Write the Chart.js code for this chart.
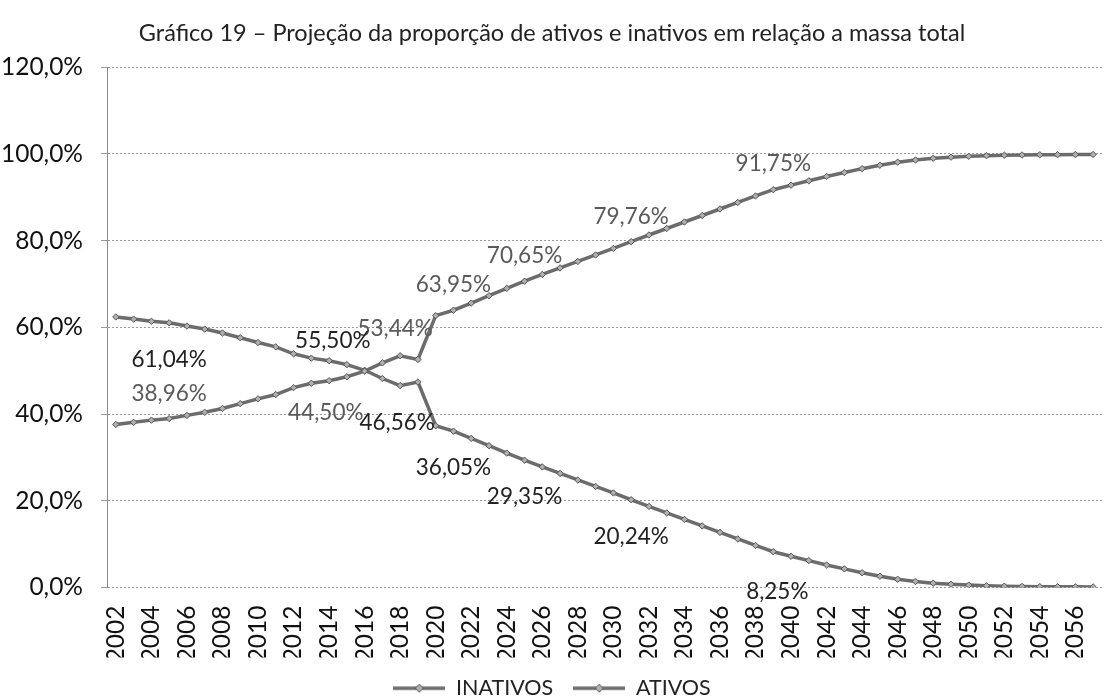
<!DOCTYPE html>
<html lang="pt">
<head>
<meta charset="utf-8">
<title>Gráfico 19</title>
<script src="https://cdn.jsdelivr.net/npm/chart.js@4.4.0/dist/chart.umd.min.js"></script>
<style>
  html, body { margin: 0; padding: 0; background: #fff; }
  #grafico { display: block; }
</style>
</head>
<body>
<canvas id="grafico" width="1107" height="699"></canvas>
<script>
// Anos da projeção
const anos = [
  '2002', '2003', '2004', '2005', '2006', '2007', '2008', '2009', '2010', '2011',
  '2012', '2013', '2014', '2015', '2016', '2017', '2018', '2019', '2020', '2021',
  '2022', '2023', '2024', '2025', '2026', '2027', '2028', '2029', '2030', '2031',
  '2032', '2033', '2034', '2035', '2036', '2037', '2038', '2039', '2040', '2041',
  '2042', '2043', '2044', '2045', '2046', '2047', '2048', '2049', '2050', '2051',
  '2052', '2053', '2054', '2055', '2056', '2057'
];

// Proporção (%) dos inativos na massa total
const inativos = [
  37.60, 38.10, 38.60, 38.96, 39.70, 40.40, 41.30, 42.40, 43.50, 44.50,
  46.10, 47.10, 47.70, 48.60, 49.90, 51.80, 53.44, 52.60, 62.70, 63.95,
  65.60, 67.30, 69.00, 70.65, 72.20, 73.70, 75.20, 76.70, 78.20, 79.76,
  81.30, 82.80, 84.30, 85.80, 87.30, 88.80, 90.30, 91.75, 92.80, 93.80,
  94.80, 95.70, 96.60, 97.40, 98.10, 98.60, 99.00, 99.25, 99.45, 99.60,
  99.70, 99.75, 99.80, 99.83, 99.85, 99.87
];

// Proporção (%) dos ativos na massa total
const ativos = [
  62.40, 61.90, 61.40, 61.04, 60.30, 59.60, 58.70, 57.60, 56.50, 55.50,
  53.90, 52.90, 52.30, 51.40, 50.10, 48.20, 46.56, 47.40, 37.30, 36.05,
  34.40, 32.70, 31.00, 29.35, 27.80, 26.30, 24.80, 23.30, 21.80, 20.24,
  18.70, 17.20, 15.70, 14.20, 12.70, 11.20, 9.70, 8.25, 7.20, 6.20,
  5.20, 4.30, 3.40, 2.60, 1.90, 1.40, 1.00, 0.75, 0.55, 0.40,
  0.30, 0.25, 0.20, 0.17, 0.15, 0.13
];

// Anos que recebem rótulo de valor
const anosRotulados = ['2005', '2011', '2018', '2021', '2025', '2031', '2039'];

const yTicks = [0, 20, 40, 60, 80, 100, 120];

const FONTE = "Lato, 'Noto Sans', sans-serif";
const COR_LINHA = '#6c6c6c';

function formatPct(v, casas) {
  return v.toFixed(casas).replace('.', ',') + '%';
}

// amostra da legenda: traço com losango no meio
function amostraLegenda() {
  const c = document.createElement('canvas');
  c.width = 52;
  c.height = 12;
  const g = c.getContext('2d');
  g.strokeStyle = COR_LINHA;
  g.lineWidth = 3.5;
  g.beginPath();
  g.moveTo(0, 6);
  g.lineTo(52, 6);
  g.stroke();
  g.fillStyle = '#b0b0b0';
  g.strokeStyle = '#555';
  g.lineWidth = 1;
  g.beginPath();
  g.moveTo(26, 2); g.lineTo(30, 6); g.lineTo(26, 10); g.lineTo(22, 6);
  g.closePath();
  g.fill();
  g.stroke();
  return c;
}

// rótulos de valor desenhados sobre os pontos escolhidos
const rotulosPlugin = {
  id: 'rotulos',
  afterDatasetsDraw(chart, args, opts) {
    const ctx = chart.ctx;
    ctx.save();
    ctx.font = opts.font;
    ctx.textAlign = 'center';
    ctx.textBaseline = 'middle';
    chart.data.datasets.forEach((ds, di) => {
      const meta = chart.getDatasetMeta(di);
      const estilo = opts.series[di];
      anosRotulados.forEach(ano => {
        const i = chart.data.labels.indexOf(ano);
        const pt = meta.data[i];
        const desvio = estilo.ajustes[ano] || [0, estilo.dy];
        ctx.fillStyle = estilo.color;
        ctx.fillText(formatPct(ds.data[i], 2), pt.x + desvio[0], pt.y + desvio[1]);
      });
    });
    ctx.restore();
  }
};

const estiloSerie = {
  borderColor: COR_LINHA,
  borderWidth: 3.5,
  pointStyle: 'rectRot',
  pointRadius: 3.2,
  pointBackgroundColor: '#b0b0b0',
  pointBorderColor: '#555',
  pointBorderWidth: 1,
  tension: 0,
  fill: false
};

const amostra = amostraLegenda();

new Chart(document.getElementById('grafico'), {
  type: 'line',
  data: {
    labels: anos,
    datasets: [
      Object.assign({ label: 'INATIVOS', data: inativos }, estiloSerie),
      Object.assign({ label: 'ATIVOS', data: ativos }, estiloSerie)
    ]
  },
  options: {
    responsive: false,
    animation: false,
    layout: { padding: { left: 0, right: 3, top: 0, bottom: -10 } },
    plugins: {
      title: {
        display: true,
        text: 'Gráfico 19 – Projeção da proporção de ativos e inativos em relação a massa total',
        color: '#222',
        font: { family: FONTE, size: 23.5, weight: 'normal' },
        padding: { top: 19, bottom: 20 }
      },
      legend: {
        position: 'bottom',
        labels: {
          color: '#222',
          font: { family: FONTE, size: 21.5 },
          usePointStyle: true,
          pointStyleWidth: 52,
          padding: 20,
          generateLabels(chart) {
            return chart.data.datasets.map((ds, i) => ({
              text: ds.label,
              pointStyle: amostra,
              fillStyle: COR_LINHA,
              strokeStyle: COR_LINHA,
              lineWidth: 0,
              hidden: false,
              datasetIndex: i,
              fontColor: '#222'
            }));
          }
        }
      },
      tooltip: { enabled: false },
      rotulos: {
        font: '22.5px ' + FONTE,
        series: [
          { color: '#5a5a5a', dy: -25, ajustes: { '2011': [50, 18], '2018': [-5, -27], '2039': [0, -26] } },
          { color: '#222', dy: 37, ajustes: { '2011': [57, -6], '2018': [-3, 37], '2039': [4, 40] } }
        ]
      }
    },
    scales: {
      x: {
        type: 'category',
        offset: true,
        grid: { display: false, drawTicks: false },
        border: { display: false },
        ticks: {
          autoSkip: false,
          minRotation: 90,
          maxRotation: 90,
          padding: 18,
          color: '#111',
          font: { family: FONTE, size: 24.5 },
          callback(value, index) {
            return index % 2 === 0 ? this.getLabelForValue(value) : '';
          }
        },
        afterFit(scale) {
          scale.height = 70;
          scale.paddingLeft = 0;
          scale.paddingRight = 0;
        }
      },
      y: {
        min: 0,
        max: 120,
        afterBuildTicks(scale) { scale.ticks = yTicks.map(v => ({ value: v })); },
        grid: { color: '#9a9a9a', lineWidth: 1, tickLength: 6, tickColor: '#9a9a9a' },
        border: { display: true, color: '#8a8a8a', dash: [2, 2] },
        ticks: {
          padding: 18,
          color: '#111',
          font: { family: FONTE, size: 24.5 },
          callback(v) { return formatPct(v, 1); }
        },
        afterFit(scale) { scale.width = 107; }
      }
    }
  },
  plugins: [rotulosPlugin]
});
</script>
</body>
</html>
